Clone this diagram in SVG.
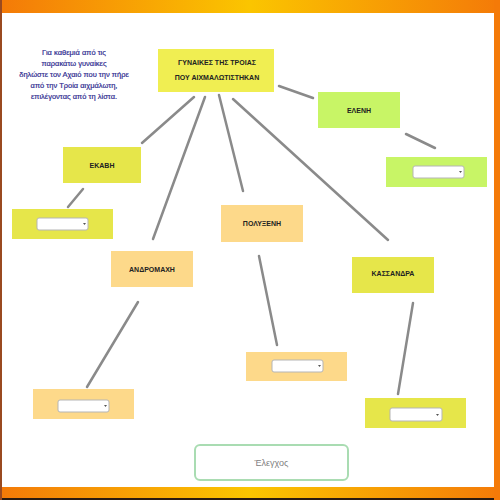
<svg xmlns="http://www.w3.org/2000/svg" width="500" height="500" viewBox="0 0 500 500">
<defs>
<linearGradient id="bar" x1="0" y1="0" x2="1" y2="0">
<stop offset="0" stop-color="#f47a08"/>
<stop offset="0.5" stop-color="#fbc500"/>
<stop offset="1" stop-color="#f47a08"/>
</linearGradient>
<style>
.lbl{font-family:"Liberation Sans",Arial,sans-serif;font-size:7px;font-weight:bold;fill:#222;text-anchor:middle}
.ins{font-family:"Liberation Sans",Arial,sans-serif;font-size:7.5px;fill:#2f2c90;stroke:#2f2c90;stroke-width:0.2;text-anchor:middle}
.yel{fill:#e6e64a}
.grn{fill:#c8f566}
.org{fill:#fdd98a}
.sel{fill:#fff;stroke:#b5b5b5;stroke-width:1}
.arr{fill:#555}
.con line{stroke:#8a8a8a;stroke-width:2.5;stroke-linecap:round}
</style>
</defs>
<rect width="500" height="500" fill="#fff"/>
<rect x="0" y="0" width="500" height="13" fill="url(#bar)"/>
<rect x="0" y="487" width="500" height="12" fill="url(#bar)"/>
<rect x="0" y="498" width="500" height="2" fill="#2a1a10"/>
<rect x="0" y="0" width="2" height="500" fill="#9a4a20"/>
<rect x="494" y="0" width="6" height="500" fill="#f47a08"/>

<g class="con">
<line x1="194" y1="97" x2="142" y2="143"/>
<line x1="205" y1="97" x2="153" y2="239"/>
<line x1="219" y1="95" x2="243" y2="191"/>
<line x1="233" y1="99" x2="388" y2="240"/>
<line x1="279" y1="86" x2="313" y2="98"/>
<line x1="406" y1="134" x2="435" y2="148"/>
<line x1="83" y1="189" x2="68" y2="207"/>
<line x1="138" y1="302" x2="87" y2="387"/>
<line x1="259" y1="256" x2="277" y2="345"/>
<line x1="413" y1="303" x2="398" y2="394"/>
</g>

<g id="instructions">
<text class="ins" x="74" y="55">Για καθεμιά από τις</text>
<text class="ins" x="74" y="66">παρακάτω γυναίκες</text>
<text class="ins" x="74" y="77">δηλώστε τον Αχαιό που την πήρε</text>
<text class="ins" x="74" y="88">από την Τροία αιχμάλωτη,</text>
<text class="ins" x="74" y="99">επιλέγοντας από τη λίστα.</text>
</g>

<g id="top">
<rect x="158" y="49" width="116" height="43" fill="#f0ee52"/>
<text class="lbl" x="217" y="65">ΓΥΝΑΙΚΕΣ ΤΗΣ ΤΡΟΙΑΣ</text>
<text class="lbl" x="217" y="80">ΠΟΥ ΑΙΧΜΑΛΩΤΙΣΤΗΚΑΝ</text>
</g>

<g id="eleni">
<rect class="grn" x="318" y="92" width="82" height="36"/>
<text class="lbl" x="359" y="112.5">ΕΛΕΝΗ</text>
</g>
<g id="eleni-select">
<rect class="grn" x="386" y="157" width="101" height="30"/>
<rect class="sel" x="413" y="166" width="51" height="12" rx="2"/>
<path class="arr" d="M459 171l3 0l-1.5 2z"/>
</g>

<g id="ekavi">
<rect class="yel" x="63" y="147" width="78" height="36"/>
<text class="lbl" x="102" y="167.5">ΕΚΑΒΗ</text>
</g>
<g id="ekavi-select">
<rect class="yel" x="12" y="209" width="101" height="30"/>
<rect class="sel" x="37" y="218" width="51" height="12" rx="2"/>
<path class="arr" d="M83 223l3 0l-1.5 2z"/>
</g>

<g id="andromachi">
<rect class="org" x="111" y="251" width="82" height="36"/>
<text class="lbl" x="152" y="271.5">ΑΝΔΡΟΜΑΧΗ</text>
</g>
<g id="andromachi-select">
<rect class="org" x="33" y="389" width="101" height="30"/>
<rect class="sel" x="58" y="400" width="51" height="12" rx="2"/>
<path class="arr" d="M104 405l3 0l-1.5 2z"/>
</g>

<g id="polyxeni">
<rect class="org" x="221" y="205" width="82" height="37"/>
<text class="lbl" x="262" y="225.5">ΠΟΛΥΞΕΝΗ</text>
</g>
<g id="polyxeni-select">
<rect class="org" x="246" y="352" width="101" height="29"/>
<rect class="sel" x="272" y="360" width="51" height="12" rx="2"/>
<path class="arr" d="M318 365l3 0l-1.5 2z"/>
</g>

<g id="kassandra">
<rect class="yel" x="352" y="257" width="82" height="36"/>
<text class="lbl" x="393" y="275.5">ΚΑΣΣΑΝΔΡΑ</text>
</g>
<g id="kassandra-select">
<rect class="yel" x="365" y="398" width="101" height="30"/>
<rect class="sel" x="390" y="408" width="52" height="13" rx="2"/>
<path class="arr" d="M436 414l3 0l-1.5 2z"/>
</g>

<g id="check">
<rect x="195" y="445" width="153" height="35" rx="5" fill="#fff" stroke="#a9dcb2" stroke-width="2"/>
<text x="271.5" y="466" style="font-family:'Liberation Sans',Arial,sans-serif;font-size:9px;fill:#808080;text-anchor:middle">Έλεγχος</text>
</g>
</svg>
